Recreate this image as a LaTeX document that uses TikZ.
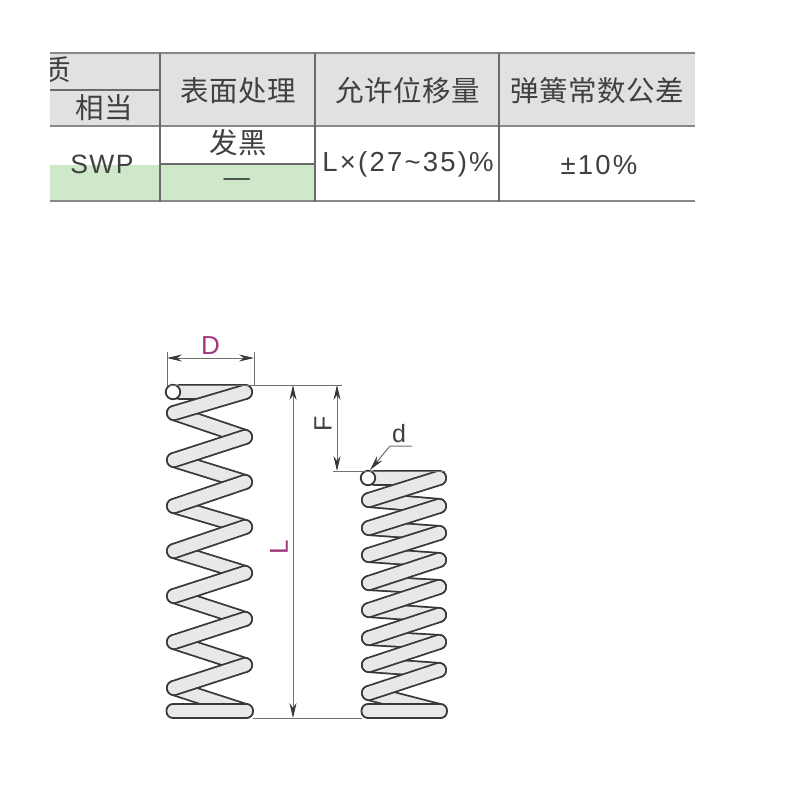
\documentclass[tikz,border=0pt]{standalone}
\usepackage{fontspec}
\setmainfont{Liberation Sans}
\newfontfamily\cjkfont[LetterSpace=2]{Noto Sans CJK SC}
\newfontfamily\latfont[LetterSpace=8]{Liberation Sans}
\newfontfamily\swpfont[LetterSpace=5]{Liberation Sans}
\usetikzlibrary{arrows.meta}
\definecolor{headgrey}{HTML}{E1E1E1}
\definecolor{rulegrey}{HTML}{6A6A6A}
\definecolor{softgreen}{HTML}{CFE8C9}
\definecolor{inktext}{HTML}{404040}
\definecolor{dimpurple}{HTML}{A0397C}
\definecolor{coilink}{HTML}{383838}
\definecolor{coilfill}{HTML}{E8E8E8}
\definecolor{dimline}{HTML}{707070}
\tikzset{
  cellrule/.style={draw=rulegrey,line width=1.5pt},
  heavyrule/.style={draw=rulegrey!80,line width=2.2pt},
  cjktext/.style={inner sep=0pt,text=inktext,font=\cjkfont\fontsize{28.5}{30}\selectfont},
  numtext/.style={inner sep=0pt,text=inktext,font=\latfont\fontsize{27.5}{30}\selectfont},
  swptext/.style={inner sep=0pt,text=inktext,font=\swpfont\fontsize{26.5}{30}\selectfont},
  dimtext/.style={inner sep=0pt,text=dimpurple,font=\fontsize{26}{30}\selectfont},
  blacktext/.style={inner sep=0pt,text=inktext,font=\fontsize{25}{30}\selectfont},
  dimrule/.style={draw=dimline,line width=1pt},
  dimarrow/.style={dimrule,{Stealth[length=15pt,width=7pt,color=coilink]}-{Stealth[length=15pt,width=7pt,color=coilink]}},
  leadarrow/.style={dimrule,-{Stealth[length=15pt,width=7pt,color=coilink]}},
  wireout/.style={draw=coilink,line width=16pt,line cap=round},
  wirein/.style={draw=coilfill,line width=12.4pt,line cap=round},
  wirehead/.style={circle,draw=coilink,fill=white,line width=1.8pt,minimum size=14.5pt,inner sep=0pt},
  flatcoil/.style={draw=coilink,fill=coilfill,line width=1.8pt,rounded corners=6.5pt},
}
\newcommand{\coilseg}[4]{%
  \draw[wireout] (#1,#2) -- (#3,#4);
  \draw[wirein] (#1,#2) -- (#3,#4);
}
\begin{document}
\begin{tikzpicture}[x=1pt,y=-1pt]
\useasboundingbox (0,0) rectangle (800,800);
\fill[white] (0,0) rectangle (800,800);
% table fills
\fill[headgrey] (50,53) rectangle (695,126);
\fill[softgreen] (50,165) rectangle (315,201);
% clipped head text
\begin{scope}
  \clip (50,50) rectangle (160,89);
  \node[cjktext] (zhi) at (57,70) {质};
\end{scope}
% table rules
\draw[heavyrule] (50,53) -- (695,53);
\draw[heavyrule] (50,126) -- (695,126);
\draw[heavyrule] (50,201) -- (695,201);
\draw[cellrule] (50,90) -- (160,90);
\draw[cellrule] (160,164) -- (315,164);
\foreach \vx in {160,315,499} \draw[cellrule] (\vx,53) -- (\vx,202);
% table text
\node[cjktext] (xiangdang) at (104,108) {相当};
\node[cjktext] (biaomian) at (238,91) {表面处理};
\node[cjktext] (yunxu) at (408,91) {允许位移量};
\node[cjktext] (tanhuang) at (597,91) {弹簧常数公差};
\node[cjktext] (fahei) at (238,143) {发黑};
\node[cjktext,xscale=1.15] (dash) at (237,183) {—};
\node[swptext] (swp) at (102,164) {SWP};
\node[numtext] (disp) at (408,164) {L×(27\char"7E 35)\%};
\node[numtext] (tol) at (599,165) {±10\%};
% left spring: back coils
\coilseg{180}{392}{245}{392}
\foreach \ya/\yb in {413/437,460/482,506/527,551/573,596/619,642/665,688/711}
  {\coilseg{174}{\ya}{245}{\yb}}
\draw[flatcoil] (166.5,704) rectangle (253,718);
% left spring: front coils
\foreach \ya/\yb in {413/392,460/437,506/482,551/527,596/573,642/619,688/665}
  {\coilseg{174}{\ya}{245}{\yb}}
\node[wirehead] (wireL) at (173,392) {};
% right spring: back coils
\coilseg{375}{478}{439}{478}
\foreach \ya/\yb in {500/506,528/533,555/560,583/587,610/615,638/642,665/670,693/711}
  {\coilseg{369}{\ya}{439}{\yb}}
\draw[flatcoil] (361.5,704) rectangle (447,718);
\foreach \ya/\yb in {500/478,528/506,555/533,583/560,610/587,638/615,665/642,693/670}
  {\coilseg{369}{\ya}{439}{\yb}}
\node[wirehead] (wireR) at (368,478) {};
% dimension anchors
\coordinate (dA) at (167,358);
\coordinate (dB) at (254,358);
\coordinate (dAt) at (167,352);
\coordinate (dAb) at (167,385);
\coordinate (dBt) at (254,352);
\coordinate (dBb) at (254,385);
\coordinate (topR) at (342,385);
\coordinate (Ltop) at (293,385);
\coordinate (Lbot) at (293,718);
\coordinate (Ftop) at (337,385);
\coordinate (Fbot) at (337,471);
\coordinate (midL) at (333,471);
\coordinate (midR) at (445,471);
\coordinate (botA) at (253,718);
\coordinate (botB) at (362,718);
\coordinate (leadEnd) at (412,446);
\coordinate (leadKnee) at (390,446);
\coordinate (leadTip) at (370,470);
% dimension lines
\draw[dimrule] (dAt) -- (dAb);
\draw[dimrule] (dBt) -- (dBb);
\draw[dimrule] (dAb) -- (topR);
\draw[dimrule] (midL) -- (midR);
\draw[dimrule] (botA) -- (botB);
\draw[dimarrow] (dA) -- (dB);
\draw[dimarrow] (Ltop) -- (Lbot);
\draw[dimarrow] (Ftop) -- (Fbot);
\draw[leadarrow] (leadEnd) -- (leadKnee) -- (leadTip);
% labels
\node[dimtext] (labD) at (210.5,346) {D};
\node[dimtext,rotate=90] (labL) at (279,547) {L};
\node[blacktext,rotate=90] (labF) at (323,424) {F};
\node[blacktext] (labd) at (399,434) {d};
\end{tikzpicture}
\end{document}
